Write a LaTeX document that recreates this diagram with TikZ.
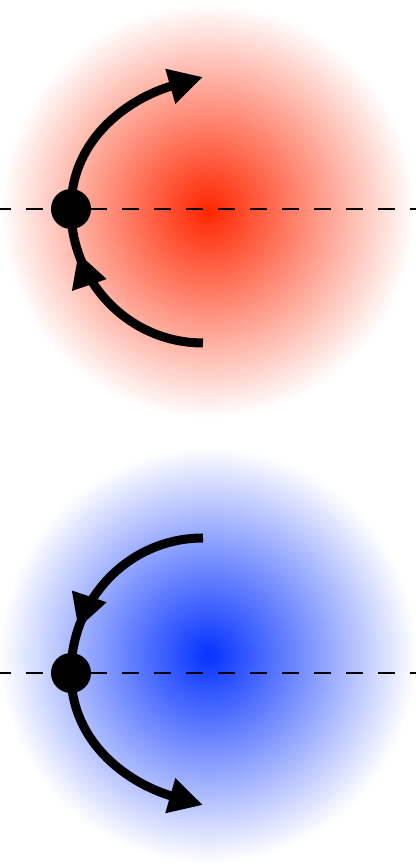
\documentclass[tikz,border=0pt]{standalone}
\usepackage{tikz}
\usetikzlibrary{arrows.meta,positioning,calc,decorations.markings}
\definecolor{piros}{RGB}{255,38,0}
\definecolor{kek}{RGB}{5,50,255}
\tikzset{
  golyo/.style={circle,fill,inner sep=0pt,minimum size=1cm},
  tengely/.style={line width=2.1pt,dash pattern=on 0.42cm off 0.38cm},
  palya/.style={line width=6.4pt},
  nyil/.style={-{Triangle[length=0.85cm,width=0.85cm]}},
  kozepnyil/.style={postaction={decorate},decoration={markings,
    mark=at position #1 with {\arrow{Triangle[length=0.85cm,width=0.85cm]}}}},
}

\begin{document}
\begin{tikzpicture}
  \useasboundingbox (0,0) rectangle (10.4,21.625);
  % felso, piros
  \shade[inner color=piros,outer color=white] (5.2,16.35) circle[radius=5.175];
  \coordinate (pbal) at (-0.15,16.4); \coordinate (pjobb) at (10.5,16.4);
  \draw[tengely] (pbal) -- (pjobb);
  \node[golyo] (pg) at (1.775,16.4) {};
  \coordinate (pki) at (5.075,13.05); \coordinate (pbe) at (5.075,19.7);
  \draw[palya,nyil,kozepnyil=0.4] (pki) to[out=180,in=270] (pg.center)
    to[out=90,in=196] (pbe);
  % also, kek
  \shade[inner color=kek,outer color=white] (5.2,5.25) circle[radius=5.2];
  \coordinate (kbal) at (-0.15,4.8); \coordinate (kjobb) at (10.5,4.8);
  \draw[tengely] (kbal) -- (kjobb);
  \node[golyo] (kg) at (1.775,4.8) {};
  \coordinate (kki) at (5.075,8.175); \coordinate (kbe) at (5.075,1.5);
  \draw[palya,nyil,kozepnyil=0.4] (kki) to[out=180,in=90] (kg.center)
    to[out=270,in=164] (kbe);
\end{tikzpicture}
\end{document}
